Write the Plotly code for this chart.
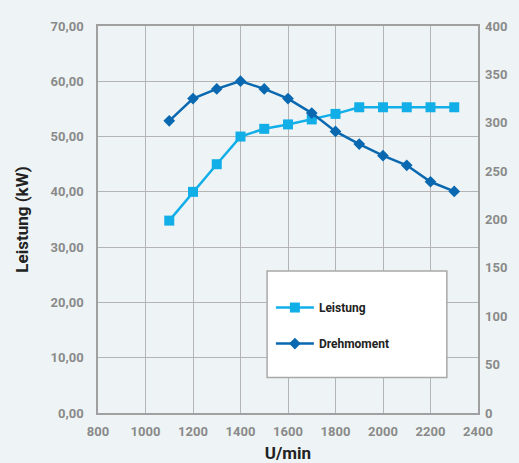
import plotly.graph_objects as go

rpm = [1100, 1200, 1300, 1400, 1500, 1600, 1700, 1800, 1900, 2000, 2100, 2200, 2300]
leistung_kw = [34.8, 40.0, 45.0, 50.0, 51.4, 52.2, 53.1, 54.1, 55.3, 55.3, 55.3, 55.3, 55.3]
drehmoment_nm = [302, 325, 335, 343, 335, 325, 310, 291, 278, 266, 256, 239, 229]

x_ticks = [800, 1000, 1200, 1400, 1600, 1800, 2000, 2200, 2400]
left_ticks = [0, 10, 20, 30, 40, 50, 60, 70]
right_ticks = [0, 50, 100, 150, 200, 250, 300, 350, 400]

BG = "#eef4f5"
GRID = "#b4b4b4"
TICK = "#8a8a8a"
FONT = "Roboto"

fig = go.Figure()
fig.add_trace(go.Scatter(
    x=rpm, y=leistung_kw, name="Leistung", mode="lines+markers",
    line=dict(color="#12aee8", width=2.5),
    marker=dict(symbol="square", size=10, color="#12aee8"),
    legendgroup="a", yaxis="y"))
fig.add_trace(go.Scatter(
    x=rpm, y=drehmoment_nm, name="Drehmoment", mode="lines+markers",
    line=dict(color="#0a68b0", width=2.5),
    marker=dict(symbol="diamond", size=9, color="#0a68b0"),
    legendgroup="b", yaxis="y2"))

fig.add_shape(type="rect", xref="paper", yref="paper",
              x0=0.445, x1=0.918, y0=0.092, y1=0.367,
              fillcolor="white", line=dict(color="#a8a8a8", width=1.5),
              layer="above")

fig.update_layout(
    width=519, height=463,
    margin=dict(l=98, r=41, t=26, b=50, autoexpand=False),
    paper_bgcolor=BG, plot_bgcolor=BG,
    separators=",.",
    font=dict(family=FONT, color=TICK, size=13),
    showlegend=True,
    legend=dict(x=0.455, y=0.31, xanchor="left", yanchor="top",
                bgcolor="rgba(0,0,0,0)", borderwidth=0,
                traceorder="grouped", tracegroupgap=17,
                font=dict(family=FONT, size=12, color="#222222", weight="bold"),
                itemwidth=38),
    xaxis=dict(range=[800, 2400], tickvals=x_ticks, automargin=False,
               showgrid=True, gridcolor=GRID, gridwidth=1.2,
               showline=True, linecolor="#a0a0a0", linewidth=1.5, mirror=True,
               zeroline=False, ticks="", ticklabelstandoff=6,
               tickfont=dict(family=FONT, size=13, color=TICK, weight="bold"),
               title=dict(text="U/min", standoff=14,
                          font=dict(family=FONT, size=17, color="#222222", weight="bold"))),
    yaxis=dict(range=[0, 70], tickvals=left_ticks, tickformat=".2f", automargin=False,
               showgrid=True, gridcolor=GRID, gridwidth=1.2,
               showline=True, linecolor="#a0a0a0", linewidth=1.5, mirror=True,
               zeroline=False, ticks="", ticklabelstandoff=10,
               tickfont=dict(family=FONT, size=13, color=TICK, weight="bold"),
               title=dict(text="Leistung (kW)", standoff=18,
                          font=dict(family=FONT, size=17, color="#222222", weight="bold"))),
    yaxis2=dict(range=[0, 400], tickvals=right_ticks, overlaying="y", side="right",
                automargin=False,
                showgrid=False, zeroline=False, showline=False, ticks="",
                ticklabelstandoff=6,
                tickfont=dict(family=FONT, size=13, color=TICK, weight="bold")),
)

fig.write_html("out.html", config={"displayModeBar": False},
               post_script="document.body.style.margin='0';document.body.style.background='%s';" % BG)
